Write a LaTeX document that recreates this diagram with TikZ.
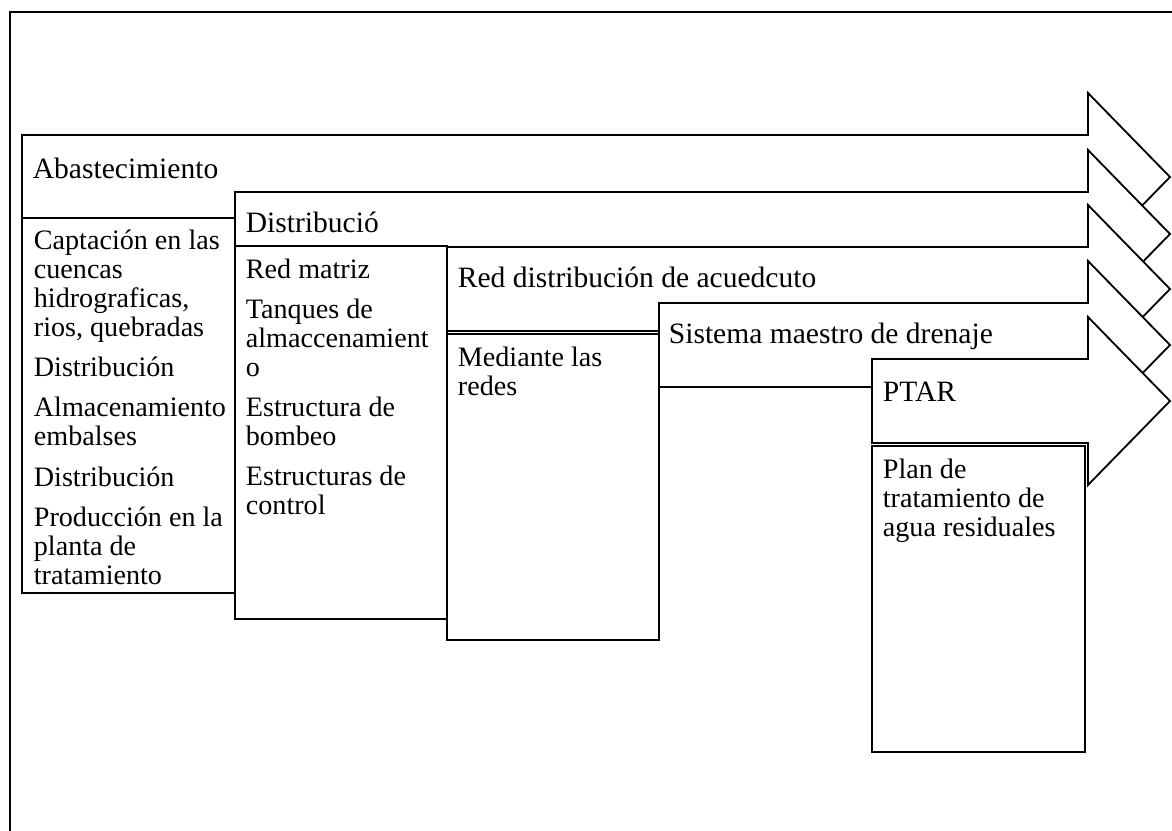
\documentclass[tikz,border=0pt]{standalone}
\usepackage{fontspec}
\setmainfont{Liberation Serif}

\begin{document}
\begin{tikzpicture}[x=0.025cm,y=-0.025cm,line width=1.3pt,
    flecha/.style={draw=black,fill=white},
    caja/.style={draw=black,fill=white},
    titulo/.style={anchor=base west,inner sep=0pt,font=\fontsize{21}{24}\selectfont},
    texto/.style={anchor=north west,inner sep=0pt,align=left,font=\fontsize{20}{20.6}\selectfont}]
    \useasboundingbox (0,0) rectangle (1172,830);
    \clip (0,0) rectangle (1172,830);
    \draw (10,12) rectangle (1190,850);
    % flechas escalonadas
    \foreach \x/\y in {22/135,235/192,447/247,659/303,872/359}
    \filldraw[flecha] (\x,\y) -- (1088,\y) -- (1088,\y-42) -- (1170,\y+42)
      -- (1088,\y+126) -- (1088,\y+84) -- (\x,\y+84) -- cycle;
    % cajas
    \filldraw[caja] (22,218) rectangle (235,593);
    \filldraw[caja] (235,246) rectangle (447,619);
    \filldraw[caja] (447,334) rectangle (659,640);
    \filldraw[caja] (872,446) rectangle (1085,752);
    % textos
    \node[titulo] (abast) at (32,178) {Abastecimiento};
    \node[titulo] (distr) at (245,232) {Distribució};
    \node[titulo] (redacu) at (457,287) {Red distribución de acuedcuto};
    \node[titulo] (sistema) at (668,343) {Sistema maestro de drenaje};
    \node[titulo] (ptar) at (882,401) {PTAR};
    \node[texto] (captacion) at (33,229) {Captación en las\\cuencas\\hidrograficas,\\rios, quebradas\\[8pt]Distribución\\[8pt]Almacenamiento\\embalses\\[8pt]Distribución\\[8pt]Producción en la\\planta de\\tratamiento};
    \node[texto] (redmatriz) at (245,258) {Red matriz\\[8pt]Tanques de\\almaccenamient\\o\\[8pt]Estructura de\\bombeo\\[8pt]Estructuras de\\control};
    \node[texto] (mediante) at (457,346) {Mediante las\\redes};
    \node[texto] (plan) at (882,458) {Plan de\\tratamiento de\\agua residuales};
\end{tikzpicture}
\end{document}
